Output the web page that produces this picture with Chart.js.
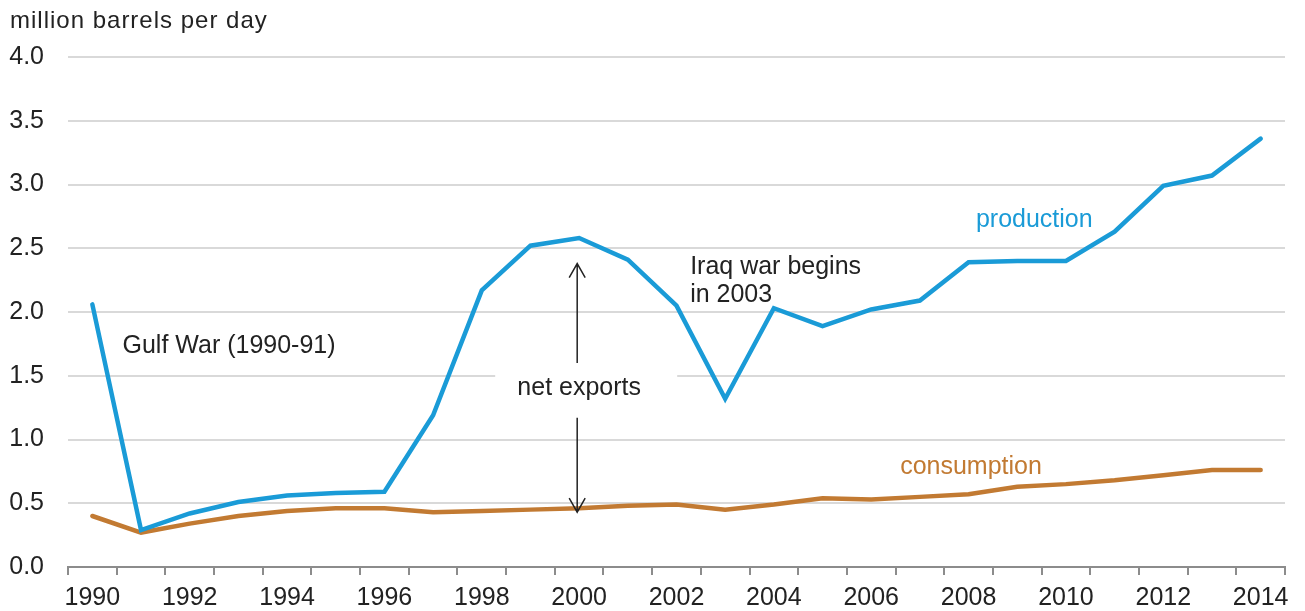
<!DOCTYPE html>
<html>
<head>
<meta charset="utf-8">
<script src="https://cdn.jsdelivr.net/npm/chart.js@4/dist/chart.umd.min.js"></script>
<style>
  body { margin: 0; background: #fff; }
  #wrap { position: relative; width: 1305px; height: 611px; }
</style>
</head>
<body>
<div id="wrap"><canvas id="chart" width="1305" height="611"></canvas></div>
<script>
const years = ['1990','1991','1992','1993','1994','1995','1996','1997','1998','1999','2000','2001','2002',
  '2003','2004','2005','2006','2007','2008','2009','2010','2011','2012','2013','2014'];
const production = [2.06, 0.29, 0.42, 0.51, 0.56, 0.58, 0.59, 1.19, 2.17, 2.52, 2.58, 2.41, 2.05,
  1.32, 2.03, 1.89, 2.02, 2.09, 2.39, 2.40, 2.40, 2.63, 2.99, 3.07, 3.36];
const consumption = [0.40, 0.27, 0.34, 0.40, 0.44, 0.46, 0.46, 0.43, 0.44, 0.45, 0.46, 0.48, 0.49,
  0.45, 0.49, 0.54, 0.53, 0.55, 0.57, 0.63, 0.65, 0.68, 0.72, 0.76, 0.76];
const yTicks = [0, 0.5, 1.0, 1.5, 2.0, 2.5, 3.0, 3.5, 4.0];

const blue = '#1a9bd7';
const brown = '#c27a32';
const FONT = '"Liberation Sans", Arial, sans-serif';

// notes: [text, x index, y value, colour, align]
const notes = [
  ['Gulf War (1990-91)', 0.62, 1.73, '#222', 'left'],
  ['Iraq war begins', 12.28, 2.35, '#222', 'left'],
  ['in 2003', 12.28, 2.13, '#222', 'left'],
  ['production', 19.35, 2.72, blue, 'center'],
  ['consumption', 18.05, 0.78, brown, 'center']
];

const notesPlugin = {
  id: 'notes',
  afterDatasetsDraw(chart) {
    const ctx = chart.ctx;
    const x = chart.scales.x, y = chart.scales.y;
    ctx.save();
    ctx.font = '25px ' + FONT;
    ctx.textBaseline = 'middle';
    notes.forEach(n => {
      ctx.fillStyle = n[3];
      ctx.textAlign = n[4];
      ctx.fillText(n[0], x.getPixelForValue(n[1]), y.getPixelForValue(n[2]));
    });

    // net exports label with white box, arrows between the lines at 2000
    const ax = x.getPixelForValue(9.96);
    const ly = y.getPixelForValue(1.40);
    ctx.fillStyle = '#fff';
    ctx.fillRect(ax - 82, ly - 22, 182, 44);
    ctx.fillStyle = '#222';
    ctx.textAlign = 'center';
    ctx.fillText('net exports', ax + 2, ly);

    ctx.strokeStyle = '#222';
    ctx.lineWidth = 1.5;
    const top = y.getPixelForValue(2.38), upEnd = y.getPixelForValue(1.60);
    const bot = y.getPixelForValue(0.43), dnStart = y.getPixelForValue(1.17);
    ctx.beginPath();
    ctx.moveTo(ax, upEnd); ctx.lineTo(ax, top);
    ctx.moveTo(ax - 8, top + 14); ctx.lineTo(ax, top); ctx.lineTo(ax + 8, top + 14);
    ctx.moveTo(ax, dnStart); ctx.lineTo(ax, bot);
    ctx.moveTo(ax - 8, bot - 14); ctx.lineTo(ax, bot); ctx.lineTo(ax + 8, bot - 14);
    ctx.stroke();

    // axis title
    ctx.textAlign = 'left';
    ctx.textBaseline = 'alphabetic';
    ctx.font = '24px ' + FONT;
    ctx.letterSpacing = '1px';
    ctx.fillText('million barrels per day', 10, 28);
    ctx.restore();
  }
};

new Chart(document.getElementById('chart'), {
  type: 'line',
  data: {
    labels: years,
    datasets: [
      { label: 'production', data: production, borderColor: blue, borderWidth: 4.5,
        pointRadius: 0, tension: 0, borderCapStyle: 'round' },
      { label: 'consumption', data: consumption, borderColor: brown, borderWidth: 4.5,
        pointRadius: 0, tension: 0, borderCapStyle: 'round' }
    ]
  },
  options: {
    responsive: false,
    animation: false,
    events: [],
    layout: { padding: { top: 57, right: 20, left: 0, bottom: 0 } },
    plugins: { legend: { display: false }, tooltip: { enabled: false } },
    scales: {
      x: {
        type: 'category',
        offset: true,
        afterFit(s) { s.height = 44; },
        grid: { offset: true, drawOnChartArea: false, drawTicks: true, tickLength: 8, color: '#8c8c8c', lineWidth: 2 },
        border: { color: '#8c8c8c', width: 2 },
        ticks: {
          autoSkip: false, maxRotation: 0, padding: 8,
          color: '#222', font: { family: FONT, size: 25 },
          callback: (v, i) => i % 2 === 0 ? years[i] : ''
        }
      },
      y: {
        min: 0, max: 4,
        afterFit(s) { s.width = 68; },
        afterBuildTicks(s) { s.ticks = yTicks.map(v => ({ value: v })); },
        grid: { color: '#d9d9d9', lineWidth: 2, drawTicks: false },
        border: { display: false },
        ticks: {
          padding: 24, color: '#222', font: { family: FONT, size: 25 },
          callback: v => v.toFixed(1)
        }
      }
    }
  },
  plugins: [notesPlugin]
});
</script>
</body>
</html>
